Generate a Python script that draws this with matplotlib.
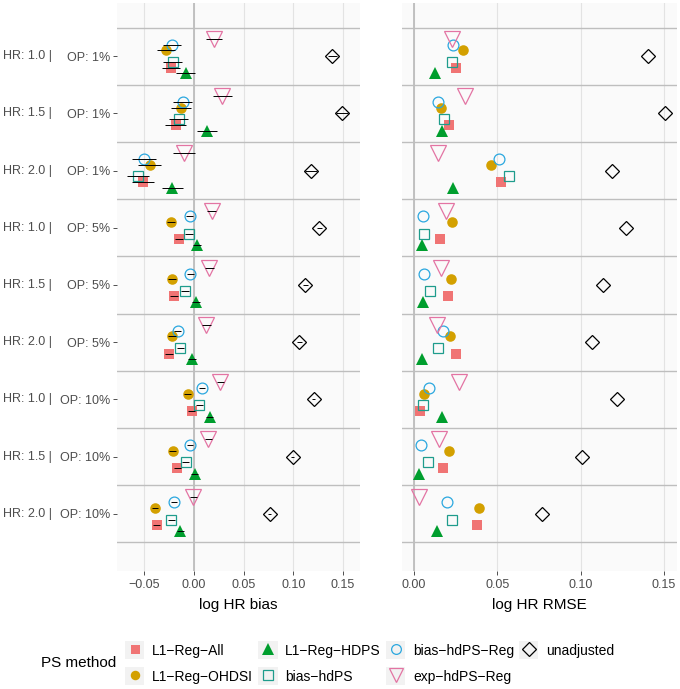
import matplotlib
matplotlib.use("Agg")
import matplotlib.pyplot as plt
import matplotlib.transforms as mtransforms
from matplotlib.legend_handler import HandlerLine2D
from matplotlib.lines import Line2D
from matplotlib.patches import Rectangle

plt.rcParams['font.family'] = ['Liberation Sans', 'DejaVu Sans']

# ---------------- data ----------------
hr_labels = ["HR: 1.0 |", "HR: 1.5 |", "HR: 2.0 |"] * 3
op_labels = ["OP: 1%"] * 3 + ["OP: 5%"] * 3 + ["OP: 10%"] * 3

methods = ["L1-Reg-All", "L1-Reg-OHDSI", "L1-Reg-HDPS", "bias-hdPS",
           "bias-hdPS-Reg", "exp-hdPS-Reg", "unadjusted"]

bias_all = [-0.023, -0.018, -0.051, -0.015, -0.0195, -0.0248, -0.0023, -0.0168, -0.0372]
bias_ohdsi = [-0.028, -0.013, -0.0445, -0.023, -0.022, -0.0215, -0.006, -0.0211, -0.039]
bias_hdps = [-0.008, 0.013, -0.0215, 0.003, 0.002, -0.0017, 0.016, 0.001, -0.0138]
bias_bhdps = [-0.021, -0.015, -0.0557, -0.005, -0.0087, -0.0134, 0.0054, -0.008, -0.0225]
bias_bhdpsreg = [-0.022, -0.011, -0.050, -0.004, -0.0037, -0.016, 0.0084, -0.0037, -0.0198]
bias_exp = [0.020, 0.0285, -0.010, 0.018, 0.0155, 0.0124, 0.0265, 0.0144, -0.0007]
bias_unadj = [0.139, 0.149, 0.118, 0.126, 0.112, 0.106, 0.1207, 0.0996, 0.0762]

ci_all = [0.009, 0.0105, 0.011, 0.004, 0.004, 0.004, 0.0035, 0.0035, 0.0035]
ci_ohdsi = [0.0095, 0.010, 0.0115, 0.004, 0.004, 0.004, 0.0035, 0.0035, 0.0035]
ci_hdps = [0.0095, 0.010, 0.0105, 0.004, 0.004, 0.004, 0.0035, 0.0035, 0.0035]
ci_bhdps = [0.0095, 0.0095, 0.011, 0.004, 0.004, 0.004, 0.0035, 0.0035, 0.0035]
ci_bhdpsreg = [0.009, 0.0095, 0.012, 0.0035, 0.0035, 0.0035, 0.003, 0.003, 0.003]
ci_exp = [0.008, 0.0095, 0.011, 0.0045, 0.0045, 0.0045, 0.0035, 0.0035, 0.0035]
ci_unadj = [0.0045, 0.006, 0.006, 0.0025, 0.0025, 0.0025, 0.0015, 0.0015, 0.0015]

rmse_all = [0.0251, 0.0209, 0.0524, 0.0157, 0.0201, 0.0251, 0.0036, 0.0173, 0.0376]
rmse_ohdsi = [0.0293, 0.0163, 0.0462, 0.0227, 0.0223, 0.0217, 0.0062, 0.0209, 0.039]
rmse_hdps = [0.0127, 0.0165, 0.0235, 0.0048, 0.0054, 0.0048, 0.0165, 0.003, 0.0139]
rmse_bhdps = [0.0225, 0.0177, 0.0568, 0.0062, 0.0096, 0.0145, 0.0056, 0.0084, 0.0229]
rmse_bhdpsreg = [0.0235, 0.0145, 0.0512, 0.0054, 0.0058, 0.0171, 0.009, 0.0044, 0.0199]
rmse_exp = [0.0225, 0.0303, 0.0145, 0.0189, 0.0163, 0.0135, 0.0269, 0.0147, 0.0032]
rmse_unadj = [0.1406, 0.1506, 0.1189, 0.1269, 0.1133, 0.1068, 0.1215, 0.1006, 0.0769]

bias_ticks = [-0.05, 0.0, 0.05, 0.10, 0.15]
bias_ticklabels = ["\u22120.05", "0.00", "0.05", "0.10", "0.15"]
rmse_ticks = [0.0, 0.05, 0.10, 0.15]
rmse_ticklabels = ["0.00", "0.05", "0.10", "0.15"]

bias = [bias_all, bias_ohdsi, bias_hdps, bias_bhdps, bias_bhdpsreg, bias_exp, bias_unadj]
ci = [ci_all, ci_ohdsi, ci_hdps, ci_bhdps, ci_bhdpsreg, ci_exp, ci_unadj]
rmse = [rmse_all, rmse_ohdsi, rmse_hdps, rmse_bhdps, rmse_bhdpsreg, rmse_exp, rmse_unadj]

# ---------------- style ----------------
dodge = [0.2, -0.1, 0.3, 0.1, -0.2, -0.3, 0.0]
styles = [
    dict(marker='s', ms=7.2, mfc='#F07474', mec='#F07474', mew=0),
    dict(marker='o', ms=7.6, mfc='#D3A000', mec='#D3A000', mew=0),
    dict(marker='^', ms=9.0, mfc='#009E2E', mec='#009E2E', mew=0),
    dict(marker='s', ms=7.4, mfc='none', mec='#1E9C8C', mew=0.9),
    dict(marker='o', ms=7.8, mfc='none', mec='#2AA7DF', mew=0.9),
    dict(marker='v', ms=11.0, mfc='none', mec='#E374A3', mew=0.9),
    dict(marker='D', ms=7.6, mfc='none', mec='black', mew=0.9),
]

W, H = 680, 689
fig = plt.figure(figsize=(W / 100, H / 100), dpi=100)
fig.patch.set_facecolor('white')

ax1 = fig.add_axes([117 / W, 1 - 571 / H, 243 / W, 568 / H])
ax2 = fig.add_axes([402 / W, 1 - 571 / H, 275 / W, 568 / H])

nrows = len(op_labels)
rows = list(range(nrows))

for ax, xticks, xtl, xlim, xlabel in [
        (ax1, bias_ticks, bias_ticklabels, (-0.0772, 0.167), "log HR bias"),
        (ax2, rmse_ticks, rmse_ticklabels, (-0.0072, 0.1578), "log HR RMSE")]:
    ax.set_facecolor('#FAFAFA')
    for s in ax.spines.values():
        s.set_visible(False)
    ax.set_xlim(*xlim)
    ax.set_ylim(9.0, -0.93)
    ax.set_xticks(xticks)
    ax.set_xticklabels(xtl)
    for xt in xticks:
        ax.axvline(xt, color='#E3E3E3', lw=0.8, zorder=0)
    ax.axvline(0, color='#BDBDBD', lw=1.3, zorder=1)
    for k in range(-1, nrows):
        ax.axhline(k + 0.5, color='#BEBEBE', lw=1.0, zorder=1)
    ax.tick_params(axis='x', length=3, width=0.6, color='#333333',
                   labelsize=9, labelcolor='#4D4D4D', pad=2.5)
    ax.set_xlabel(xlabel, fontsize=11, labelpad=5)

ax1.set_yticks(rows)
ax1.set_yticklabels(op_labels)
ax1.tick_params(axis='y', length=3, width=0.6, color='#333333',
                labelsize=9, labelcolor='#4D4D4D', pad=2)
ax2.set_yticks([])

trans = mtransforms.blended_transform_factory(fig.transFigure, ax1.transData)
for k in rows:
    ax1.text(3 / W, k, hr_labels[k], transform=trans, ha='left', va='center',
             fontsize=9, color='#4D4D4D')

for m in range(len(methods)):
    ys = [k + dodge[m] for k in rows]
    ax1.plot(bias[m], ys, ls='none', zorder=3, **styles[m])
    lo = [b - c for b, c in zip(bias[m], ci[m])]
    hi = [b + c for b, c in zip(bias[m], ci[m])]
    ax1.hlines(ys, lo, hi, color='black', lw=0.7, zorder=4)
    ax2.plot(rmse[m], ys, ls='none', zorder=3, **styles[m])


# ---------------- legend ----------------
class BoxHandler(HandlerLine2D):
    def create_artists(self, legend, orig_handle, xdescent, ydescent,
                       width, height, fontsize, trans):
        arts = super().create_artists(legend, orig_handle, xdescent, ydescent,
                                      width, height, fontsize, trans)
        pad_y = 0.12 * fontsize
        r = Rectangle((-xdescent, -ydescent - pad_y), width, height + 2 * pad_y,
                      facecolor='#F2F2F2', edgecolor='none', transform=trans,
                      zorder=0)
        return [r] + arts


handles = [Line2D([], [], ls='none', **styles[m]) for m in range(len(methods))]
labels = [name.replace("-", "\u2212") for name in methods]
leg = fig.legend(handles, labels, loc='upper left',
                 bbox_to_anchor=(125 / W, 1 - 643 / H), ncol=4, frameon=False,
                 fontsize=10, handlelength=1.4, handleheight=1.2,
                 handletextpad=0.55, columnspacing=0.36, labelspacing=0.8,
                 borderpad=0, borderaxespad=0, markerscale=0.9,
                 handler_map={Line2D: BoxHandler(numpoints=1)})
fig.text(79 / W, 1 - 663 / H, "PS method", ha='center', va='center', fontsize=11)

fig.savefig("out.png", dpi=100, facecolor='white')
